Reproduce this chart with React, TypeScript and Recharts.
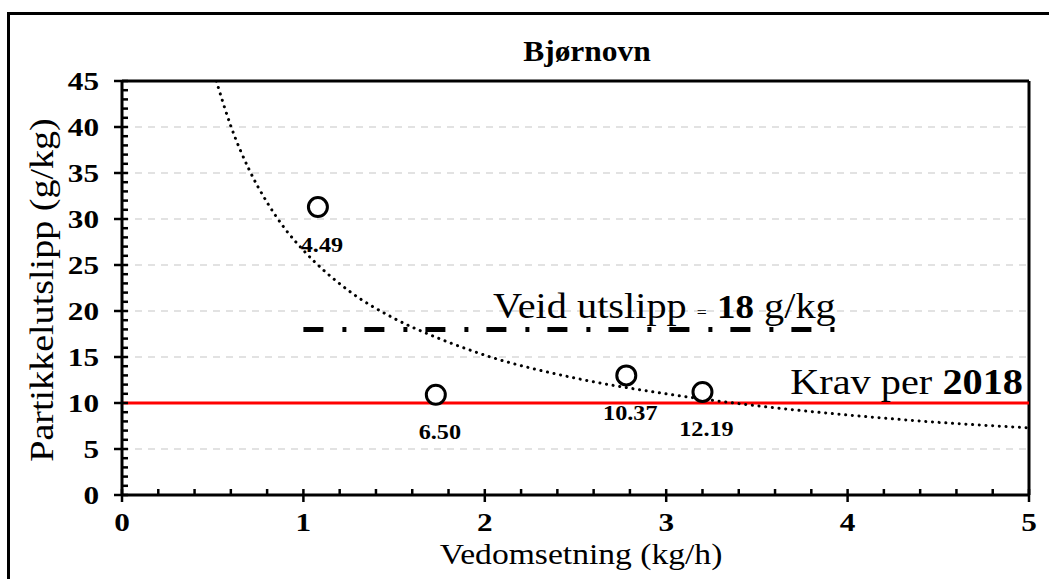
import React from 'react';
import { ComposedChart, XAxis, YAxis, Line, Scatter, ReferenceLine, ReferenceDot } from 'recharts';

// ---- data ----
const xTicks = [0, 0.2, 0.4, 0.6, 0.8, 1, 1.2, 1.4, 1.6, 1.8, 2, 2.2, 2.4, 2.6, 2.8, 3, 3.2, 3.4, 3.6, 3.8, 4, 4.2, 4.4, 4.6, 4.8, 5];
const xMajorTicks = [0, 1, 2, 3, 4, 5];
const yTicks = [0, 1, 2, 3, 4, 5, 6, 7, 8, 9, 10, 11, 12, 13, 14, 15, 16, 17, 18, 19, 20, 21, 22, 23, 24, 25, 26, 27, 28, 29, 30, 31, 32, 33, 34, 35, 36, 37, 38, 39, 40, 41, 42, 43, 44, 45];
const yMajorTicks = [0, 5, 10, 15, 20, 25, 30, 35, 40, 45];
const gridValues = [5, 10, 15, 20, 25, 30, 35, 40];

const pointX = [1.08, 1.73, 2.78, 3.2];
const pointY = [31.3, 10.9, 13.0, 11.2];
const pointLabels = ['4.49', '6.50', '10.37', '12.19'];

const trendX = [0.52, 0.6, 0.7, 0.8, 0.9, 1, 1.25, 1.5, 1.75, 2, 2.5, 3, 3.5, 4, 4.5, 5];
const trendY = [45, 40.1, 35.4, 31.8, 28.9, 26.6, 22.2, 19.2, 17.0, 15.2, 12.7, 11.0, 9.7, 8.7, 7.9, 7.3];

const limitValue = 10;
const weightedValue = 18;
const weightedRange = [1.0, 3.97];

const titleText = 'Bjørnovn';
const xAxisTitle = 'Vedomsetning (kg/h)';
const yAxisTitle = 'Partikkelutslipp (g/kg)';

// ---- derived tables ----
const pointData = pointX.map((x, i) => ({ x, y: pointY[i], label: pointLabels[i] }));
const trendData = trendX.map((x, i) => ({ x, y: trendY[i] }));
const weightedData = weightedRange.map((x) => ({ x, y: weightedValue }));

const SERIF = "'Liberation Serif', 'Times New Roman', serif";

const XTick = (props: any) => {
  const { x, y, payload } = props;
  const v = payload.value;
  const major = xMajorTicks.some((m) => Math.abs(m - v) < 1e-6);
  return (
    <g>
      <line x1={x} x2={x} y1={y - 6} y2={major ? y + 7 : y} stroke="#000" strokeWidth={2.5} />
      {major && (
        <g transform={`translate(${x} ${y + 36}) scale(1.25 1)`}>
          <text x={0} y={0} textAnchor="middle" fontFamily={SERIF} fontWeight="bold" fontSize={25} fill="#000">
            {v}
          </text>
        </g>
      )}
    </g>
  );
};

const YTick = (props: any) => {
  const { x, y, payload } = props;
  const v = payload.value;
  const major = yMajorTicks.includes(v);
  return (
    <g>
      <line x1={major ? x - 8 : x} x2={x + 6} y1={y} y2={y} stroke="#000" strokeWidth={2.5} />
      {major && (
        <g transform={`translate(${x - 23} ${y + 8.5}) scale(1.25 1)`}>
          <text x={0} y={0} textAnchor="end" fontFamily={SERIF} fontWeight="bold" fontSize={25} fill="#000">
            {v}
          </text>
        </g>
      )}
    </g>
  );
};

const PointShape = (props: any) => {
  const { cx, cy, payload } = props;
  return (
    <g>
      <circle cx={cx} cy={cy} r={9.5} fill="#fff" stroke="#000" strokeWidth={3} />
      <g transform={`translate(${cx + 4} ${cy + 44.5}) scale(1.1 1)`}>
        <text x={0} y={0} textAnchor="middle" fontFamily={SERIF} fontWeight="bold" fontSize={22} fill="#000">
          {payload.label}
        </text>
      </g>
    </g>
  );
};

const VeidText = (props: any) => (
  <g transform={`translate(${props.cx} ${props.cy}) scale(1.12 1)`}>
    <text x={0} y={0} textAnchor="middle" fontFamily={SERIF} fontSize={36} fill="#000">
      <tspan>Veid utslipp </tspan>
      <tspan fontSize={16}>=</tspan>
      <tspan> </tspan>
      <tspan fontWeight="bold" fontSize={33}>18</tspan>
      <tspan> g/kg</tspan>
    </text>
  </g>
);

const KravText = (props: any) => (
  <g transform={`translate(${props.cx} ${props.cy}) scale(1.12 1)`}>
    <text x={0} y={0} textAnchor="end" fontFamily={SERIF} fontSize={36} fill="#000">
      <tspan>Krav per </tspan>
      <tspan fontWeight="bold">2018</tspan>
    </text>
  </g>
);

export default function App() {
  return (
    <div style={{ position: 'absolute', left: 0, top: 0, width: 1049, height: 579, background: '#fff', overflow: 'hidden' }}>
      <ComposedChart width={1049} height={579} margin={{ top: 81, right: 20, bottom: 0, left: 0 }}>
        <XAxis
          dataKey="x"
          type="number"
          domain={[0, 5]}
          ticks={xTicks}
          interval={0}
          height={84}
          tickSize={0}
          tickMargin={0}
          tickLine={false}
          tick={<XTick />}
          axisLine={{ stroke: '#000', strokeWidth: 3 }}
          allowDataOverflow
        />
        <YAxis
          type="number"
          domain={[0, 45]}
          ticks={yTicks}
          interval={0}
          width={122}
          tickSize={0}
          tickMargin={0}
          tickLine={false}
          tick={<YTick />}
          axisLine={{ stroke: '#000', strokeWidth: 3 }}
          allowDataOverflow
        />
        {gridValues.map((v) => (
          <ReferenceLine key={v} y={v} stroke="#d9d9d9" strokeWidth={1.5} strokeDasharray="7 6" />
        ))}
        <ReferenceLine y={45} stroke="#000" strokeWidth={3} />
        <ReferenceLine x={5} stroke="#000" strokeWidth={3} />
        <ReferenceLine y={limitValue} stroke="#ff0000" strokeWidth={3} />
        <Line
          data={trendData}
          dataKey="y"
          type="monotone"
          stroke="#000"
          strokeWidth={3}
          strokeDasharray="0.1 6.6"
          strokeLinecap="round"
          dot={false}
          activeDot={false}
          isAnimationActive={false}
        />
        <Line
          data={weightedData}
          dataKey="y"
          type="linear"
          stroke="#000"
          strokeWidth={5}
          strokeDasharray="20 19 4 18"
          dot={false}
          activeDot={false}
          isAnimationActive={false}
        />
        <Scatter data={pointData} dataKey="y" shape={<PointShape />} isAnimationActive={false} />
        <ReferenceDot x={2.99} y={19.24} r={0} shape={<VeidText />} />
        <ReferenceDot x={4.967} y={10.98} r={0} shape={<KravText />} />
      </ComposedChart>
      <svg width={1049} height={579} style={{ position: 'absolute', left: 0, top: 0, pointerEvents: 'none' }}>
        <line x1={8.5} y1={12} x2={8.5} y2={579} stroke="#000" strokeWidth={3} />
        <line x1={7} y1={13.5} x2={1049} y2={13.5} stroke="#000" strokeWidth={3} />
        <g transform="translate(587 61) scale(1.05 1)">
          <text x={0} y={0} textAnchor="middle" fontFamily={SERIF} fontWeight="bold" fontSize={30} fill="#000">
            {titleText}
          </text>
        </g>
        <g transform="translate(581 564) scale(1.12 1)">
          <text x={0} y={0} textAnchor="middle" fontFamily={SERIF} fontSize={30} fill="#000">
            {xAxisTitle}
          </text>
        </g>
        <g transform="translate(53 290) rotate(-90) scale(1.12 1)">
          <text x={0} y={0} textAnchor="middle" fontFamily={SERIF} fontSize={34} fill="#000">
            {yAxisTitle}
          </text>
        </g>
      </svg>
    </div>
  );
}
